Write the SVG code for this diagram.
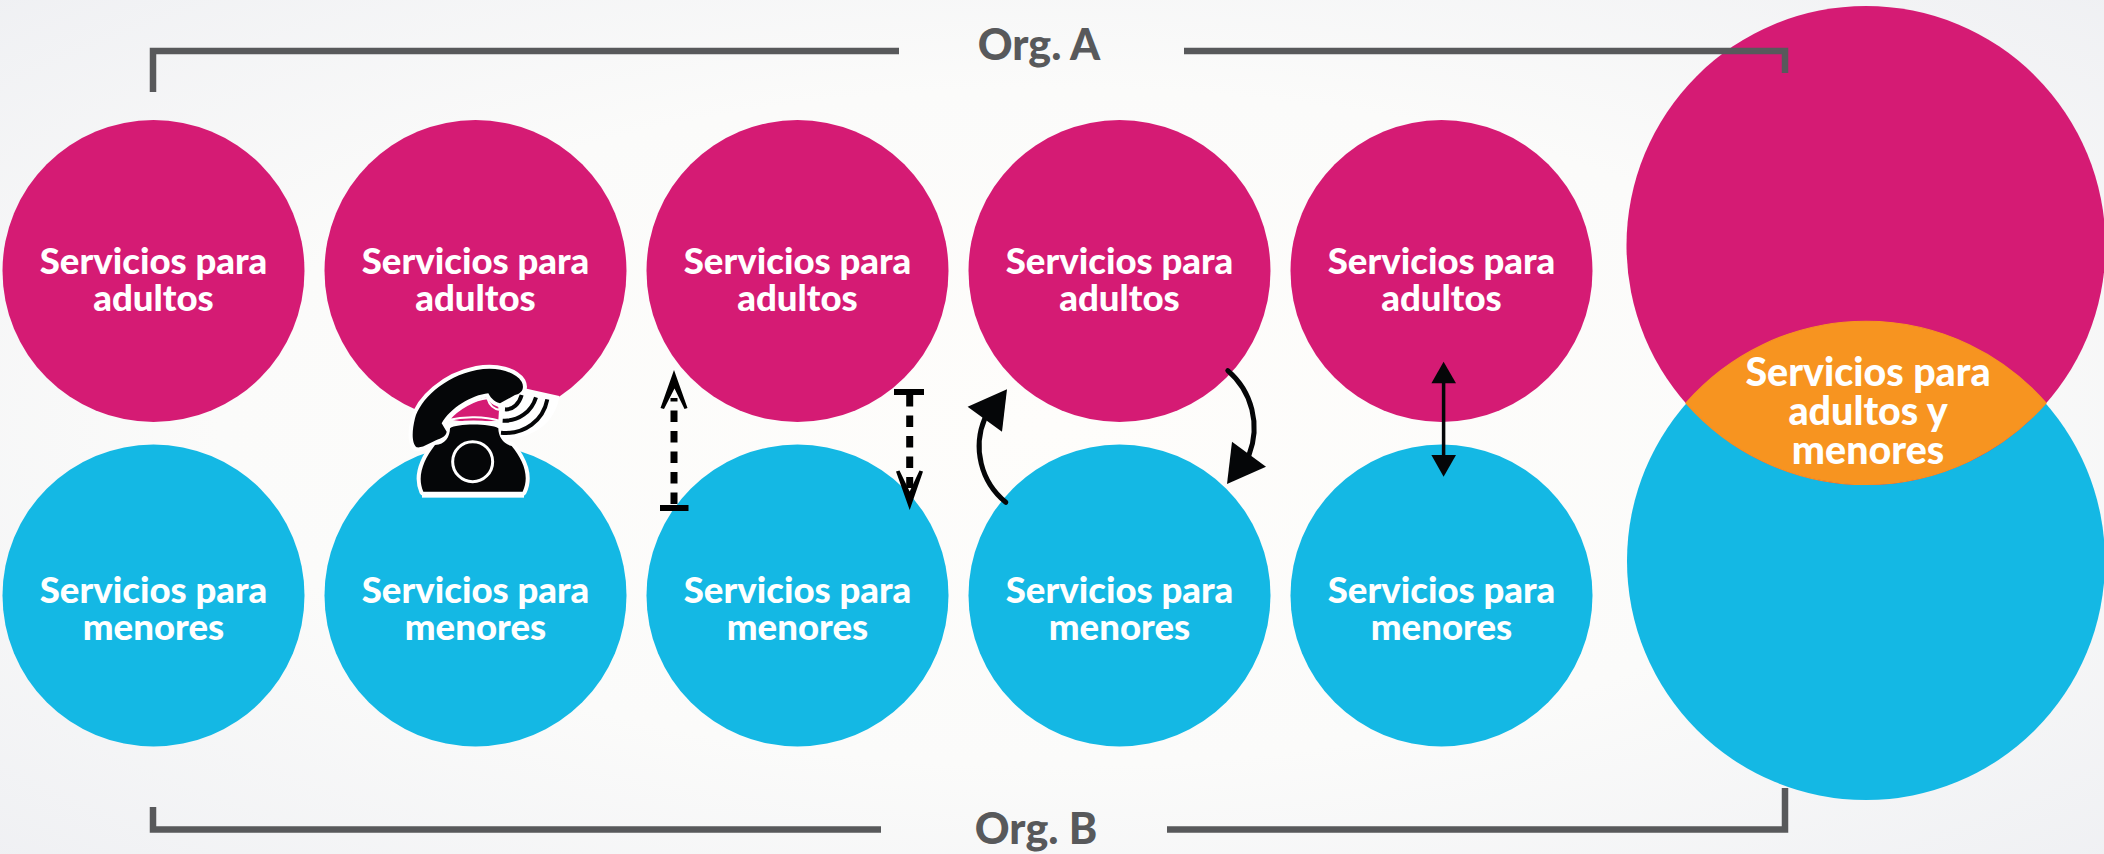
<svg xmlns="http://www.w3.org/2000/svg" width="2104" height="854" viewBox="0 0 2104 854">
<style>
.p{fill:#D51B74}.b{fill:#14B8E4}.o{fill:#F79420;stroke:#F79420;stroke-width:1.2}
.t{font-family:"Lato","Noto Sans",sans-serif;font-weight:900;font-size:36.6px;fill:#fff;text-anchor:middle}
.tl{font-size:39.4px}
.org{font-family:"Lato","Noto Sans",sans-serif;font-weight:900;font-size:43px;fill:#58595B;text-anchor:middle}
.br{fill:none;stroke:#58595B;stroke-width:6.5;stroke-linejoin:miter}
.k{fill:#050608}
.ds{fill:none;stroke:#000;stroke-width:7;stroke-dasharray:11.5 9}
.bar{fill:#000}
.cv{fill:none;stroke:#050608;stroke-width:5;stroke-linecap:round}
.ln{stroke:#050608;stroke-width:3.5}
.halo{fill:#fff;stroke:#fff;stroke-width:24;stroke-linejoin:round}
.wave{fill:none;stroke:#050608;stroke-width:12}
</style>
<defs>
<radialGradient id="bg" cx=".5" cy=".5" r=".72">
<stop offset="0" stop-color="#FEFDFB"/><stop offset=".55" stop-color="#FBFBFA"/><stop offset="1" stop-color="#EFF0F3"/>
</radialGradient>
<path id="hs" d="M50,262 C35,250 35,215 45,175 C60,120 130,50 230,30 C290,18 345,35 365,65 C375,85 365,100 345,105 L300,130 C280,125 270,110 265,100 C215,105 150,145 125,190 L140,215 C138,228 128,232 115,238 C95,245 70,265 50,262 Z"/>
<path id="bd" d="M150,205 C170,190 270,190 295,205 C295,230 310,252 335,258 C370,300 390,350 368,395 H70 C50,350 70,300 105,255 C135,255 150,230 150,205 Z"/>
</defs>
<rect width="2104" height="854" fill="url(#bg)"/>

<g id="n-adultos-1"><circle class="p" cx="153.5" cy="271" r="151"/><text class="t" x="153.5" y="274">Servicios para</text><text class="t" x="153.5" y="311">adultos</text></g>
<g id="n-adultos-2"><circle class="p" cx="475.5" cy="271" r="151"/><text class="t" x="475.5" y="274">Servicios para</text><text class="t" x="475.5" y="311">adultos</text></g>
<g id="n-adultos-3"><circle class="p" cx="797.5" cy="271" r="151"/><text class="t" x="797.5" y="274">Servicios para</text><text class="t" x="797.5" y="311">adultos</text></g>
<g id="n-adultos-4"><circle class="p" cx="1119.5" cy="271" r="151"/><text class="t" x="1119.5" y="274">Servicios para</text><text class="t" x="1119.5" y="311">adultos</text></g>
<g id="n-adultos-5"><circle class="p" cx="1441.5" cy="271" r="151"/><text class="t" x="1441.5" y="274">Servicios para</text><text class="t" x="1441.5" y="311">adultos</text></g>

<g id="n-menores-1"><circle class="b" cx="153.5" cy="595.5" r="151"/><text class="t" x="153.5" y="603">Servicios para</text><text class="t" x="153.5" y="640">menores</text></g>
<g id="n-menores-2"><circle class="b" cx="475.5" cy="595.5" r="151"/><text class="t" x="475.5" y="603">Servicios para</text><text class="t" x="475.5" y="640">menores</text></g>
<g id="n-menores-3"><circle class="b" cx="797.5" cy="595.5" r="151"/><text class="t" x="797.5" y="603">Servicios para</text><text class="t" x="797.5" y="640">menores</text></g>
<g id="n-menores-4"><circle class="b" cx="1119.5" cy="595.5" r="151"/><text class="t" x="1119.5" y="603">Servicios para</text><text class="t" x="1119.5" y="640">menores</text></g>
<g id="n-menores-5"><circle class="b" cx="1441.5" cy="595.5" r="151"/><text class="t" x="1441.5" y="603">Servicios para</text><text class="t" x="1441.5" y="640">menores</text></g>

<g id="n-grande">
<circle class="b" cx="1866" cy="561" r="239"/>
<circle class="p" cx="1866" cy="245.5" r="239.5"/>
<path class="o" d="M1686,403 A239,239 0 0 1 2046,403 A239.5,239.5 0 0 1 1686,403 Z"/>
<text class="t tl" x="1868" y="386">Servicios para</text><text class="t tl" x="1868" y="425">adultos y</text><text class="t tl" x="1868" y="464">menores</text>
</g>

<g id="n-org-a">
<path class="br" d="M153,92 V51 H899"/><path class="br" d="M1184,51 H1785 V73"/>
<text class="org" x="1039" y="60">Org. A</text>
</g>
<g id="n-org-b">
<path class="br" d="M153,807 V829.5 H881"/><path class="br" d="M1167,829.5 H1785 V788"/>
<text class="org" x="1036" y="844">Org. B</text>
</g>

<g id="connectors">
<path class="ds" d="M674,504 V398"/>
<rect class="bar" x="660" y="505" width="28.5" height="6"/>
<polygon class="bar" points="674,370 687.5,408 684.5,409 674.5,388.5 664,409 660.5,408"/>
<path class="ds" d="M909.7,395 V488"/>
<rect class="bar" x="894" y="389" width="30" height="6"/>
<polygon class="bar" points="909.7,510 896,471.5 899.5,470.5 909.7,491.5 919.5,470.5 923,471.5"/>
<path class="cv" d="M1005.8,502.3 A72,72 0 0 1 985,418"/>
<polygon class="k" points="1007,389.3 967.6,406.7 1002,431.7"/>
<path class="cv" d="M1227.8,370.7 A75,75 0 0 1 1249,455"/>
<polygon class="k" points="1232,441.7 1266,466.7 1227,484"/>
<path class="ln" d="M1443.6,380 V460"/>
<polygon class="k" points="1443.6,361.7 1456,383.3 1431.4,383.3"/>
<polygon class="k" points="1443.6,476.7 1456,455 1431.4,455"/>
</g>

<g id="n-telefono" transform="matrix(.3333,0,0,.3333,400,360)">
<path fill="#fff" d="M360,82 L478,108 C470,170 420,240 295,238 L295,130 Z"/>
<use href="#hs" class="halo"/>
<use href="#bd" class="halo"/>
<rect x="66" y="390" width="306" height="23" fill="#fff"/>
<use href="#hs" class="k"/>
<use href="#bd" class="k"/>
<path class="p" stroke="#fff" stroke-width="6" d="M145,180 C175,145 225,118 262,115 C268,135 280,148 300,150 L298,182 C255,170 195,168 145,180 Z"/>
<circle cx="218" cy="305" r="60" fill="#050608" stroke="#fff" stroke-width="9"/>
<path class="wave" d="M315,148 C340,150 358,130 365,105 M308,182 C355,185 395,155 408,112 M303,218 C375,225 430,180 442,118"/>
</g>
</svg>
